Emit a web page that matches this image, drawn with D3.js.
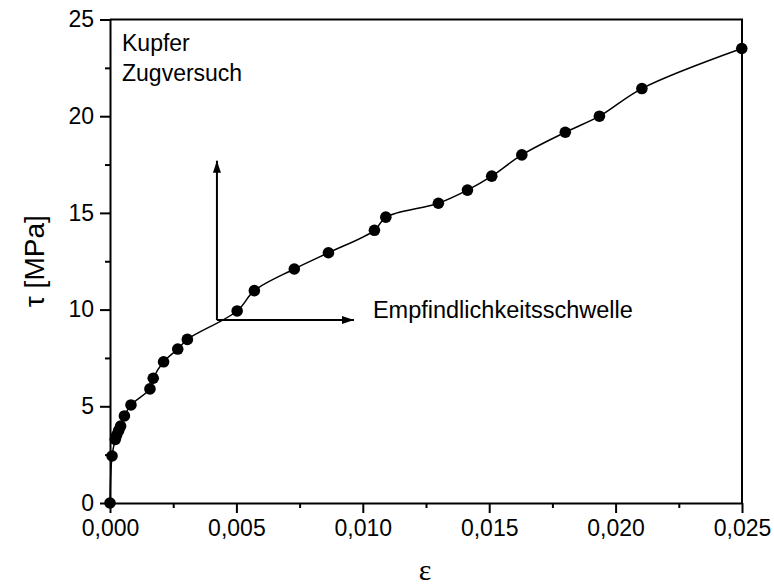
<!DOCTYPE html>
<html>
<head>
<meta charset="utf-8">
<script src="https://cdn.jsdelivr.net/npm/d3@7"></script>
<style>
  html, body { margin: 0; padding: 0; background: #fff; }
  svg { display: block; }
  text { font-family: "Liberation Sans", Arial, sans-serif; fill: #000; }
</style>
</head>
<body>
<svg id="chart" width="774" height="585"></svg>
<script>
// Tensile test on copper: shear stress vs. strain
const strain = [0, 0.00008, 0.00021, 0.00026, 0.00034, 0.00042, 0.00057, 0.00083,
  0.00158, 0.00171, 0.00212, 0.00268, 0.00306, 0.00503, 0.00571, 0.00729, 0.00864,
  0.01046, 0.01091, 0.01299, 0.01414, 0.01510, 0.01629, 0.01801, 0.01936, 0.02104, 0.02499];
const stress = [0, 2.43, 3.29, 3.50, 3.74, 3.98, 4.50, 5.07,
  5.90, 6.45, 7.30, 7.96, 8.46, 9.93, 10.98, 12.10, 12.94,
  14.10, 14.78, 15.50, 16.18, 16.90, 18.00, 19.17, 20.00, 21.43, 23.50];

const xTicks = [0, 0.005, 0.010, 0.015, 0.020, 0.025];
const xMinor = [0.0025, 0.0075, 0.0125, 0.0175, 0.0225];
const yTicks = [0, 5, 10, 15, 20, 25];
const yMinor = [2.5, 7.5, 12.5, 17.5, 22.5];

const infoLines = ["Kupfer", "Zugversuch"];
const thresholdLabel = "Empfindlichkeitsschwelle";
// Threshold marker: corner point and arrow ends (strain, stress)
const arrowCorner = [0.00423, 9.46];
const arrowUpEnd = 17.7;
const arrowRightEnd = 0.00965;

const svg = d3.select("#chart");
const plotL = 110, plotR = 742, plotT = 19.5, plotB = 503;

const x = d3.scaleLinear().domain([0, 0.025]).range([plotL, plotR]);
const y = d3.scaleLinear().domain([0, 25]).range([plotB, plotT]);

const de = d3.formatLocale({ decimal: ",", thousands: ".", grouping: [3], currency: ["", "€"] });
const fx = de.format(".3f");

// Frame (top and right edges)
svg.append("path")
  .attr("d", `M${plotL},${plotT}H${plotR}V${plotB}`)
  .attr("fill", "none").attr("stroke", "#000").attr("stroke-width", 2);

// Bottom axis
svg.append("g").attr("transform", `translate(0,${plotB})`)
  .call(d3.axisBottom(x).tickValues(xTicks).tickFormat(fx).tickSize(10).tickPadding(7).tickSizeOuter(0));
svg.append("g").attr("transform", `translate(0,${plotB})`)
  .call(d3.axisBottom(x).tickValues(xMinor).tickFormat("").tickSize(5).tickSizeOuter(0))
  .select(".domain").remove();

// Left axis
svg.append("g").attr("transform", `translate(${plotL},0)`)
  .call(d3.axisLeft(y).tickValues(yTicks).tickSize(10).tickPadding(6).tickSizeOuter(0));
svg.append("g").attr("transform", `translate(${plotL},0)`)
  .call(d3.axisLeft(y).tickValues(yMinor).tickFormat("").tickSize(5).tickSizeOuter(0))
  .select(".domain").remove();

svg.selectAll(".domain").attr("stroke-width", 2);
svg.selectAll(".tick line").attr("stroke-width", 2);
svg.selectAll(".tick text").style("font-size", "23px").attr("fill", "#000");

// Axis titles
svg.append("text")
  .attr("transform", `translate(44,${(plotT + plotB) / 2}) rotate(-90)`)
  .attr("text-anchor", "middle")
  .style("font-size", "28px")
  .text("τ [MPa]");
svg.append("text")
  .attr("x", 425).attr("y", 580)
  .attr("text-anchor", "middle")
  .style("font-size", "30px")
  .style("font-family", "'Liberation Serif', 'DejaVu Serif', serif")
  .text("ε");

// Data curve
const pts = strain.map((e, i) => [e, stress[i]]);
const line = d3.line().x(d => x(d[0])).y(d => y(d[1])).curve(d3.curveCatmullRom.alpha(0.5));
svg.append("path").datum(pts).attr("d", line)
  .attr("fill", "none").attr("stroke", "#000").attr("stroke-width", 1.5);

svg.append("g").selectAll("circle").data(pts).join("circle")
  .attr("cx", d => x(d[0])).attr("cy", d => y(d[1])).attr("r", 5.8).attr("fill", "#000");

// Threshold arrows
svg.append("defs").append("marker")
  .attr("id", "arrow").attr("viewBox", "0 0 12 8").attr("refX", 12).attr("refY", 4)
  .attr("markerWidth", 12).attr("markerHeight", 8).attr("markerUnits", "userSpaceOnUse")
  .attr("orient", "auto")
  .append("path").attr("d", "M0,0L12,4L0,8Z").attr("fill", "#000");

const cx0 = x(arrowCorner[0]), cy0 = y(arrowCorner[1]);
svg.append("line").attr("x1", cx0).attr("y1", cy0).attr("x2", cx0).attr("y2", y(arrowUpEnd))
  .attr("stroke", "#000").attr("stroke-width", 2).attr("marker-end", "url(#arrow)");
svg.append("line").attr("x1", cx0).attr("y1", cy0).attr("x2", x(arrowRightEnd)).attr("y2", cy0)
  .attr("stroke", "#000").attr("stroke-width", 2).attr("marker-end", "url(#arrow)");

svg.append("text")
  .attr("x", x(0.0104)).attr("y", y(9.56))
  .style("font-size", "23.5px")
  .text(thresholdLabel);

// Material / test info
svg.append("g").selectAll("text").data(infoLines).join("text")
  .attr("x", plotL + 12).attr("y", (d, i) => 51 + i * 30)
  .style("font-size", "23px")
  .text(d => d);
</script>
</body>
</html>
